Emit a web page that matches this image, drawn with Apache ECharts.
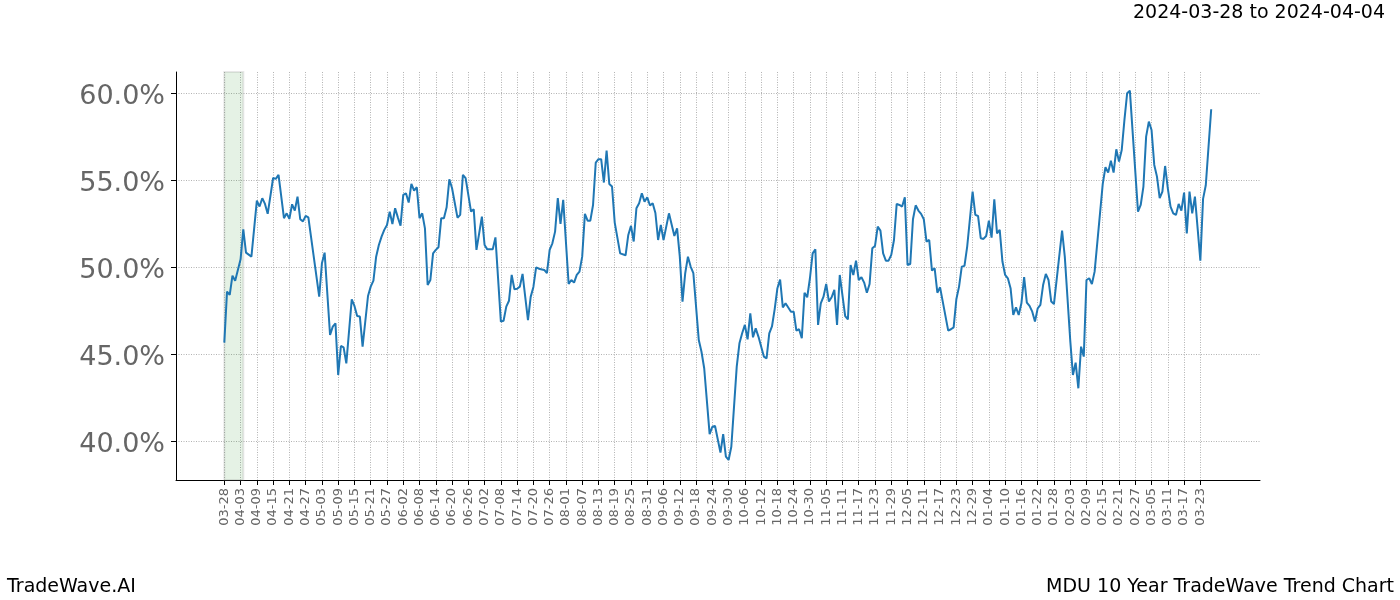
<!DOCTYPE html>
<html>
<head>
<meta charset="utf-8">
<script src="https://cdn.jsdelivr.net/npm/echarts@6/dist/echarts.min.js"></script>
<style>
html,body{margin:0;padding:0;background:#fff;}
#chart{width:1400px;height:600px;}
</style>
</head>
<body>
<div id="chart"></div>
<script>
// Day offsets from 2024-03-28 and the trend value (%) at each
const days = [0,1,2,3,4,6,7,8,10,12,13,14,15,16,18,19,20,22,23,24,25,26,27,28,
29,30,31,35,36,37,39,40,41,42,43,44,45,47,48,49,50,51,53,54,55,56,57,58,59,60,61,62,63,64,65,66,67,68,69,70,71,72,
73,74,75,76,77,78,79,80,81,82,83,84,86,87,88,89,91,92,93,94,95,96,97,99,100,102,103,104,105,106,107,108,109,110,111,112,113,114,115,116,
118,119,120,121,122,123,124,125,127,128,129,130,131,132,133,134,135,136,137,138,139,140,141,142,143,144,146,148,149,150,151,152,153,154,155,156,157,158,159,160,161,
162,164,166,167,168,169,170,171,172,173,175,176,177,179,180,181,183,184,185,186,187,189,190,191,192,193,194,195,196,197,199,200,
201,202,203,204,205,206,207,209,210,211,212,213,214,215,216,217,218,219,220,221,222,223,224,225,226,227,229,230,231,232,233,234,235,236,237,238,239,240,241,242,243,244,245,246,247,248,249,
250,251,252,253,254,255,256,257,258,259,260,261,262,263,264,267,268,269,270,271,272,273,274,276,277,278,279,280,281,282,283,284,285,286,287,288,289,290,
291,292,293,294,295,296,297,298,299,300,301,302,303,304,305,306,309,310,312,313,314,315,316,317,318,319,320,321,324,325,326,327,328,329,330,331,332,333,334,
337,338,339,340,341,342,343,344,345,346,347,348,349,350,351,352,353,354,355,356,357,358,360,361,362,364];
const values = [45.67,48.60,48.41,49.52,49.23,50.46,52.18,50.84,50.61,53.83,53.49,53.97,53.64,53.07,55.13,55.08,55.31,52.82,53.10,52.78,53.62,53.26,54.06,52.76,
52.64,52.95,52.87,48.31,50.23,50.84,46.11,46.59,46.78,43.81,45.48,45.40,44.48,48.16,47.78,47.20,47.17,45.44,48.35,48.89,49.23,50.61,51.28,51.76,52.15,52.43,53.20,52.49,53.39,52.87,52.39,54.16,54.25,53.72,54.79,54.41,54.60,52.82,
53.10,52.24,48.98,49.27,50.80,51.00,51.15,52.82,52.82,53.45,55.06,54.54,52.85,53.01,55.31,55.12,53.20,53.33,51.00,51.95,52.91,51.28,51.03,51.03,51.72,46.88,46.93,47.74,48.08,49.56,48.74,48.77,48.89,49.62,48.28,46.97,48.30,48.87,50.00,49.92,
49.85,49.66,51.00,51.38,52.05,53.97,52.49,53.87,49.04,49.27,49.12,49.56,49.75,50.61,53.07,52.68,52.68,53.58,56.02,56.21,56.21,54.87,56.70,54.79,54.64,52.57,50.80,50.69,51.86,52.38,51.48,53.39,53.68,54.25,53.77,54.02,53.55,53.68,53.12,51.57,52.43,
51.57,53.10,51.80,52.24,50.61,48.03,49.66,50.61,50.04,49.66,45.82,45.15,44.20,40.42,40.84,40.88,39.35,40.42,39.12,38.93,39.69,44.29,45.63,46.21,46.69,45.86,47.36,45.98,46.49,46.02,44.87,44.77,
46.20,46.60,47.60,48.80,49.30,47.70,47.93,47.45,47.45,46.36,46.44,45.92,48.54,48.28,49.37,50.80,51.03,46.69,47.93,48.31,49.04,48.03,48.28,48.70,46.69,49.56,47.20,47.01,50.13,49.56,50.38,49.27,49.43,49.12,48.54,49.04,51.09,51.23,52.34,52.11,50.80,50.38,50.38,50.71,51.57,53.64,53.58,
53.49,54.02,50.13,50.19,52.76,53.56,53.26,53.07,52.76,51.48,51.57,49.81,49.94,48.54,48.85,46.36,46.44,46.55,48.16,48.89,50.04,50.08,51.19,54.35,53.01,52.95,51.67,51.63,51.80,52.68,51.70,53.91,51.95,52.15,50.33,49.56,49.37,48.80,
47.26,47.70,47.26,47.93,49.43,47.97,47.78,47.45,46.88,47.64,47.84,48.98,49.62,49.27,48.03,47.89,52.11,50.61,45.82,43.81,44.52,43.05,45.44,44.87,49.27,49.37,49.04,49.75,54.79,55.75,55.44,56.13,55.44,56.78,56.07,56.74,58.47,60.00,60.15,
53.20,53.58,54.64,57.51,58.37,57.89,55.88,55.21,53.97,54.35,55.82,54.54,53.49,53.10,53.01,53.64,53.26,54.29,51.95,54.35,53.10,54.06,50.38,53.93,54.71,59.08];

// x tick labels, one every 6 days starting at day offset 0
const xTickLabels = ['03-28','04-03','04-09','04-15','04-21','04-27','05-03','05-09','05-15','05-21','05-27','06-02','06-08','06-14','06-20','06-26','07-02','07-08','07-14','07-20','07-26','08-01','08-07','08-13','08-19','08-25','08-31','09-06','09-12','09-18','09-24','09-30','10-06','10-12','10-18','10-24','10-30','11-05','11-11','11-17','11-23','11-29','12-05','12-11','12-17','12-23','12-29','01-04','01-10','01-16','01-22','01-28','02-03','02-09','02-15','02-21','02-27','03-05','03-11','03-17','03-23'];
const yTicks = [40, 45, 50, 55, 60];
const highlightStart = 0;  // 2024-03-28
const highlightEnd = 7;    // 2024-04-04

const xTickValues = xTickLabels.map((_, i) => i * 6);
const seriesData = days.map((d, i) => [d, values[i]]);

const FONT = 'DejaVu Sans';
const chart = echarts.init(document.getElementById('chart'), null, {renderer: 'canvas'});
chart.setOption({
  animation: false,
  backgroundColor: '#ffffff',
  textStyle: {fontFamily: FONT},
  title: [
    {text: '2024-03-28 to 2024-04-04', right: 10, top: -1,
     textStyle: {fontFamily: FONT, fontSize: 19, fontWeight: 'normal', color: '#000'}},
    {text: 'TradeWave.AI', left: 2, bottom: -2,
     textStyle: {fontFamily: FONT, fontSize: 19, fontWeight: 'normal', color: '#000'}},
    {text: 'MDU 10 Year TradeWave Trend Chart', right: 1, bottom: -2,
     textStyle: {fontFamily: FONT, fontSize: 19, fontWeight: 'normal', color: '#000'}}
  ],
  grid: {left: 176, right: 140, top: 72, bottom: 120, containLabel: false},
  xAxis: {
    type: 'value',
    min: -17.82,
    max: 382.0,
    axisLine: {show: true, onZero: false, lineStyle: {color: '#000', width: 1}},
    axisTick: {show: true, length: 5, customValues: xTickValues, lineStyle: {color: '#000', width: 1}},
    axisLabel: {
      show: true, customValues: xTickValues, rotate: 90, margin: 8,
      fontFamily: FONT, fontSize: 13, color: '#666',
      formatter: v => xTickLabels[Math.round(v / 6)] || ''
    },
    splitLine: {show: true, lineStyle: {color: '#a0a0a0', width: 0.8, type: [1, 1.5]}}
  },
  yAxis: {
    type: 'value',
    min: 37.78,
    max: 61.22,
    axisLine: {show: true, onZero: false, lineStyle: {color: '#000', width: 1}},
    axisTick: {show: true, length: 5, customValues: yTicks, lineStyle: {color: '#000', width: 1}},
    axisLabel: {
      show: true, customValues: yTicks, margin: 11,
      fontFamily: FONT, fontSize: 27, color: '#666',
      formatter: v => '{t|' + v.toFixed(1) + '%}',
      rich: {t: {fontFamily: FONT, fontSize: 27, color: '#666', padding: [7, 0, 0, 0]}}
    },
    splitLine: {show: true, lineStyle: {color: '#a0a0a0', width: 0.8, type: [1, 1.5]}}
  },
  series: [{
    type: 'line',
    data: seriesData,
    showSymbol: false,
    symbol: 'none',
    lineStyle: {color: '#1f77b4', width: 2},
    z: 3,
    markArea: {
      silent: true,
      itemStyle: {color: 'rgba(0,128,0,0.1)', borderColor: 'rgba(128,128,128,0.18)', borderWidth: 2},
      data: [[{xAxis: highlightStart}, {xAxis: highlightEnd}]]
    }
  }]
});
</script>
</body>
</html>
